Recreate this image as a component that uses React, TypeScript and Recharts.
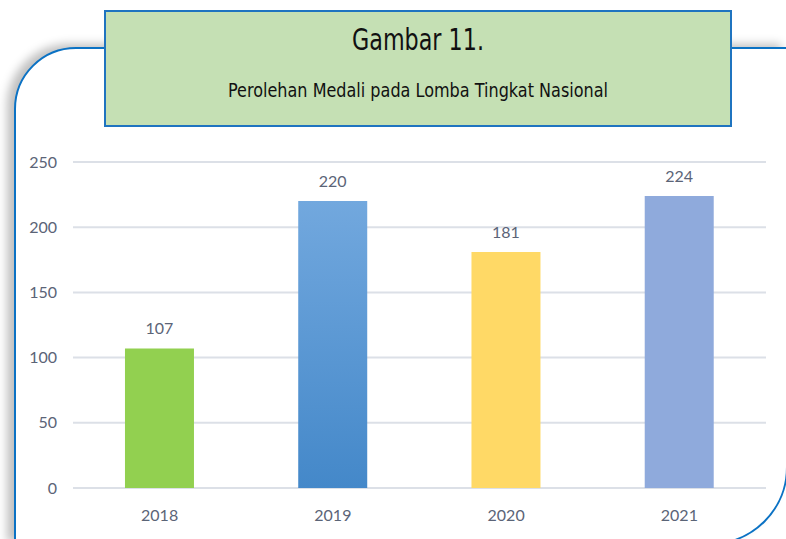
import { Bar, BarChart, CartesianGrid, Cell, LabelList, XAxis, YAxis } from "recharts";

const years = ["2018", "2019", "2020", "2021"];
const medals = [107, 220, 181, 224];
const yTicks = [0, 50, 100, 150, 200, 250];
const barFills = ["#92D050", "url(#blueGrad)", "#FFD966", "#8FAADC"];

const data = years.map((year, i) => ({ year, medals: medals[i] }));

const textColor = "#5B6477";
const chartFont = "Lato, 'Open Sans', sans-serif";

export default function App() {
  return (
    <div
      style={{
        position: "absolute",
        left: 0,
        top: 0,
        width: 786,
        height: 539,
        overflow: "hidden",
        background: "#fff",
      }}
    >
      {/* outer rounded frame */}
      <div
        style={{
          position: "absolute",
          left: 14,
          top: 47,
          width: 774,
          height: 498,
          boxSizing: "border-box",
          border: "2.5px solid #0B72C4",
          borderTopLeftRadius: 62,
          borderBottomRightRadius: 78,
          background: "#fff",
          boxShadow: "-7px -3px 10px rgba(0,0,0,0.25)",
        }}
      />

      <div style={{ position: "absolute", left: 0, top: 140 }}>
        <BarChart
          width={786}
          height={399}
          data={data}
          margin={{ top: 22, right: 20, bottom: 0, left: 13 }}
          barCategoryGap="30%"
        >
          <defs>
            <linearGradient id="blueGrad" x1="0" y1="0" x2="0" y2="1">
              <stop offset="0%" stopColor="#72A8DE" />
              <stop offset="100%" stopColor="#4488C9" />
            </linearGradient>
          </defs>
          <CartesianGrid vertical={false} stroke="#DCE0E7" strokeWidth={2} />
          <XAxis
            dataKey="year"
            height={51}
            axisLine={false}
            tickLine={false}
            tickMargin={16}
            tick={{ fill: textColor, fontSize: 16, fontFamily: chartFont }}
          />
          <YAxis
            width={60}
            domain={[0, 250]}
            ticks={yTicks}
            axisLine={false}
            tickLine={false}
            tickMargin={10}
            tick={{ fill: textColor, fontSize: 16, fontFamily: chartFont }}
          />
          <Bar dataKey="medals" isAnimationActive={false}>
            {data.map((d, i) => (
              <Cell key={d.year} fill={barFills[i]} />
            ))}
            <LabelList
              dataKey="medals"
              position="top"
              offset={14}
              fill={textColor}
              fontSize={16}
              fontFamily={chartFont}
            />
          </Bar>
        </BarChart>
      </div>

      {/* title box, svg so the narrow text can be squeezed */}
      <svg
        width={628}
        height={117}
        style={{ position: "absolute", left: 104, top: 10 }}
      >
        <rect x={1} y={1} width={626} height={115} fill="#C5E0B4" stroke="#1F74C0" strokeWidth={2} />
        <text
          x={314}
          y={40}
          textAnchor="middle"
          fontFamily="'DejaVu Sans', sans-serif"
          fontSize={30}
          fill="#111"
          textLength={132}
          lengthAdjust="spacingAndGlyphs"
        >
          Gambar 11.
        </text>
        <text
          x={314}
          y={87}
          textAnchor="middle"
          fontFamily="'DejaVu Sans', sans-serif"
          fontSize={19}
          fill="#111"
          textLength={380}
          lengthAdjust="spacingAndGlyphs"
        >
          Perolehan Medali pada Lomba Tingkat Nasional
        </text>
      </svg>
    </div>
  );
}
